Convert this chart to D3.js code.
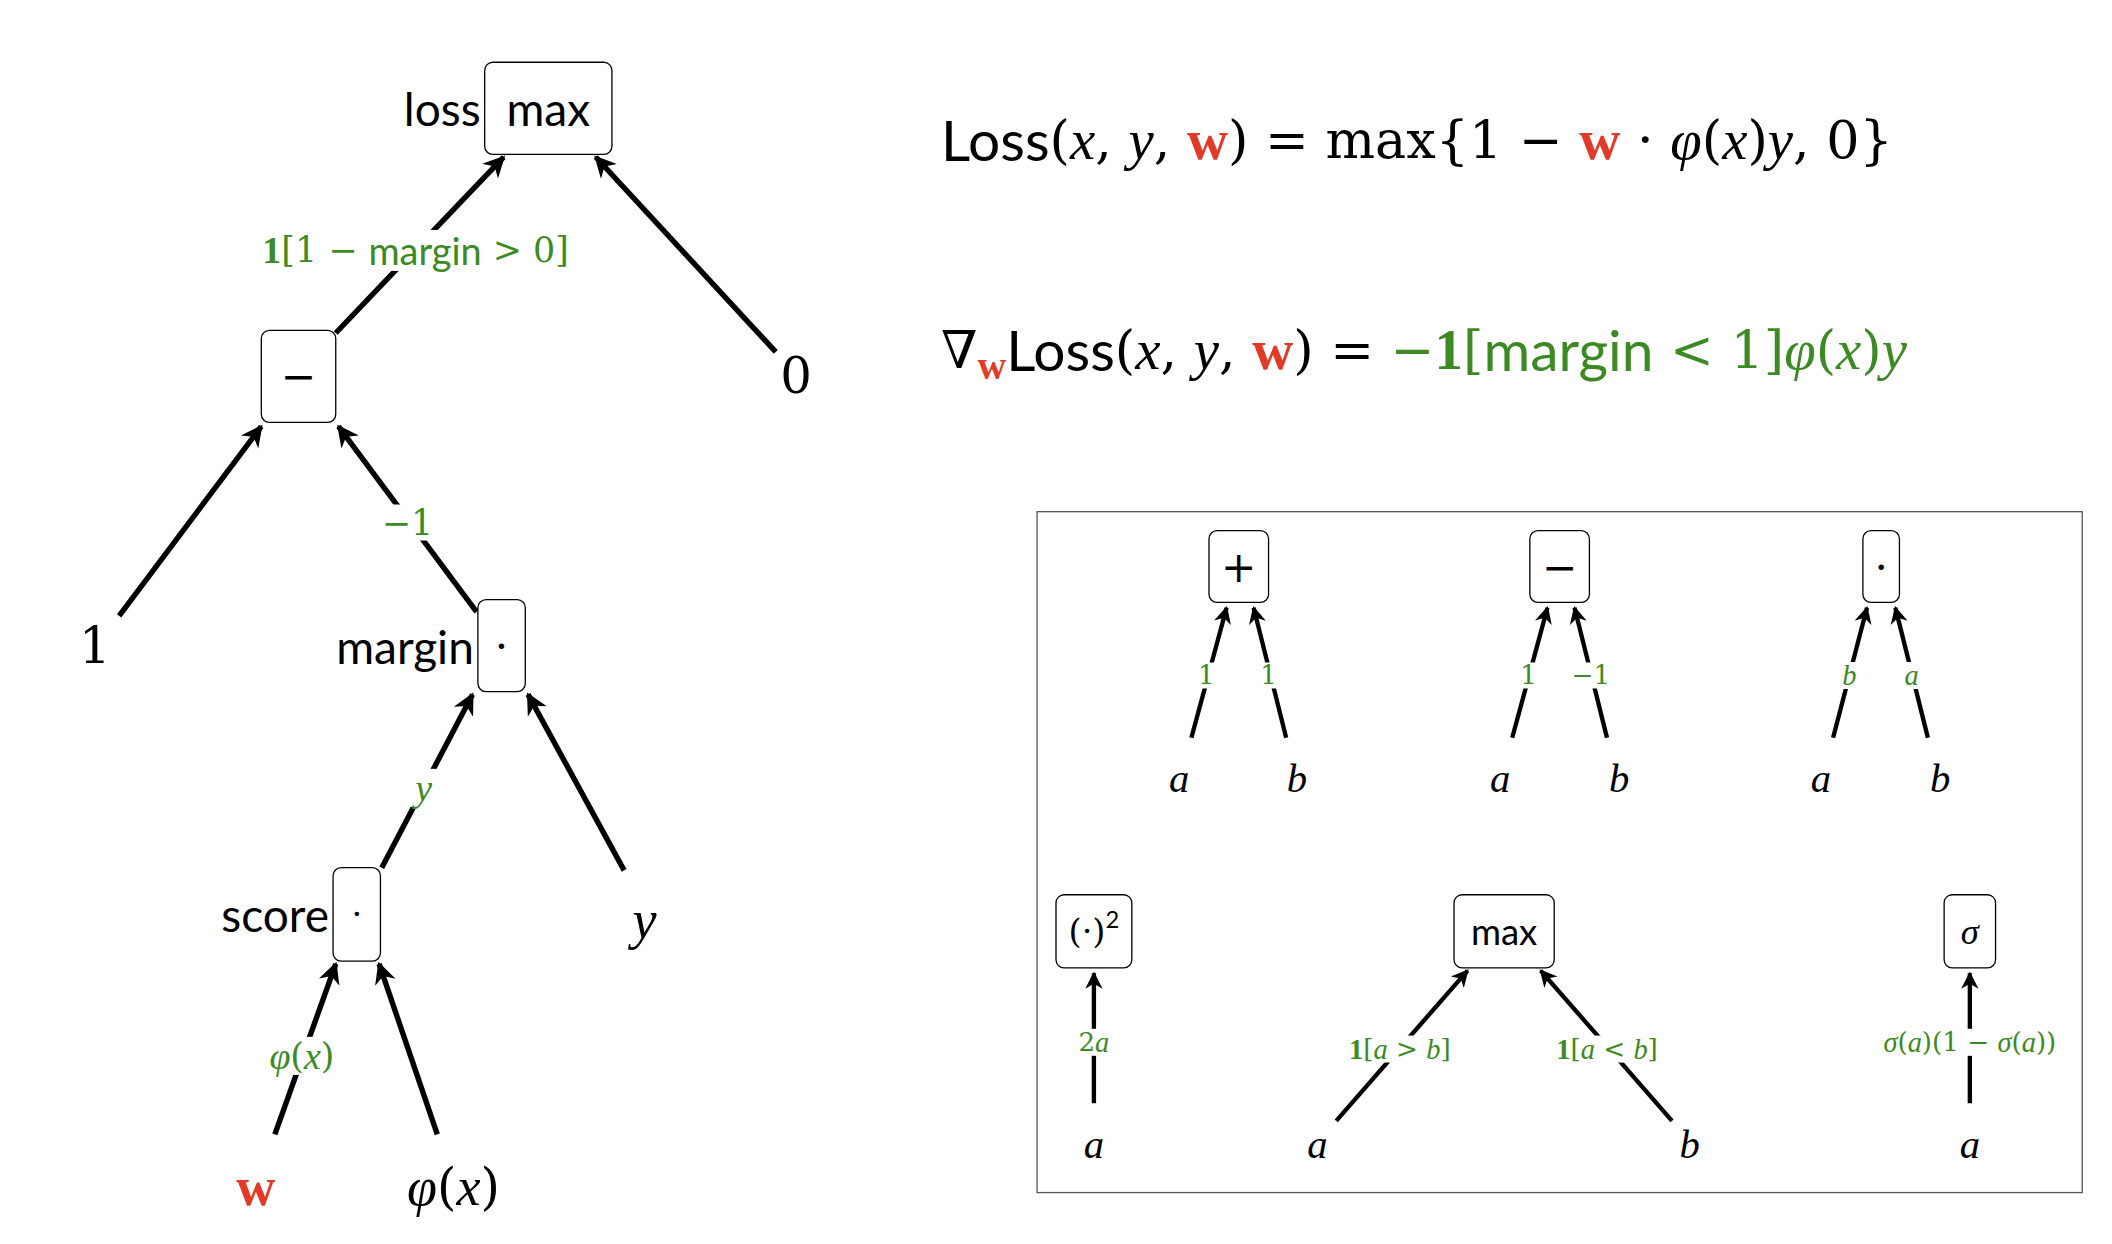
<!DOCTYPE html>
<html><head><meta charset="utf-8">
<script src="https://cdn.jsdelivr.net/npm/d3@7"></script>
<style>body{margin:0;background:#fff}</style>
</head><body><div id="canvas"></div>
<script>
const W=2112,H=1244;
const GREEN="#3b8a23",RED="#e23a26";
// picture space is 1560 x 919, scaled up to the page
const x=d3.scaleLinear().domain([0,1560]).range([0,W]);
const y=d3.scaleLinear().domain([0,919]).range([0,H]);
const k=W/1560;

// boxes: [id, x0, y0, x1, y1, text, side label]
const boxes=[
 ["max",358,46,452,114,[["max","s"]],"loss"],
 ["minus",193,244,248,312,[["−","m"]],""],
 ["margin",353,443,388,511,[["·","m"]],"margin"],
 ["score",246,641,281,710,[["·","m"]],"score"],
 ["plus2",893,392,937,445,[["+","m"]],""],
 ["minus2",1130,392,1174,445,[["−","m"]],""],
 ["dot2",1376,392,1403,445,[["·","m"]],""],
 ["sq2",780,661,836,715,[["(·)","m"],["2","sup"]],""],
 ["max2",1074,661,1148,715,[["max","s"]],""],
 ["sig2",1436,661,1474,715,[["σ","i"]],""]
];
// edges: from x,y -> to x,y, label, label x,y, size
const edges=[
 [248,246,372,116,[["1","bg"],["[1 − ","m"],["margin","s"],[" > 0]","m"]],307,185,28,4],
 [573,260,440,116,null,0,0,0,4],
 [88,455,193,315,null,0,0,0,4],
 [352,452,250,315,[["−1","m"]],301,386,28,4],
 [282,641,349,513,[["y","i"]],313,582,28,4],
 [461,643,390,513,null,0,0,0,4],
 [203,838,248,712,[["φ","i"],["(","m"],["x","i"],[")","m"]],223,780,28,4],
 [323,838,280,712,null,0,0,0,4],
 [880,545,906,449,[["1","m"]],891,499,21,3.2],
 [950,545,926,449,[["1","m"]],937,499,21,3.2],
 [1117,545,1143,449,[["1","m"]],1129,499,21,3.2],
 [1187,545,1163,449,[["−1","m"]],1175,499,21,3.2],
 [1354,545,1379,449,[["b","i"]],1366,499,21,3.2],
 [1424,545,1400,449,[["a","i"]],1412,499,21,3.2],
 [808,815,808,719,[["2","m"],["a","i"]],808,770,21,3.2],
 [987,828,1084,717,[["1","bg"],["[","m"],["a","i"],[" > ","m"],["b","i"],["]","m"]],1034,775,21,3.2],
 [1235,828,1138,717,[["1","bg"],["[","m"],["a","i"],[" < ","m"],["b","i"],["]","m"]],1187,775,21,3.2],
 [1455,815,1455,719,[["σ","i"],["(","m"],["a","i"],[")(1 − ","m"],["σ","i"],["(","m"],["a","i"],["))","m"]],1455,770,21,3.2]
];
// leaves: text, x, y, size
const leaves=[
 [[["1","m"]],70,477,40],[[["0","m"]],588,278,40],[[["y","i"]],476,680,40],
 [[["w","br"]],189,877,40],[[["φ","i"],["(","m"],["x","i"],[")","m"]],335,877,40],
 [[["a","i"]],871,575,30],[[["b","i"]],958,575,30],[[["a","i"]],1108,575,30],[[["b","i"]],1196,575,30],
 [[["a","i"]],1345,575,30],[[["b","i"]],1433,575,30],[[["a","i"]],808,845,30],[[["a","i"]],973,845,30],
 [[["b","i"]],1248,845,30],[[["a","i"]],1455,845,30]
];
const formula1=[["Loss","s"],["(","m"],["x","i"],[", ","m"],["y","i"],[", ","m"],["w","br"],[") = max{1 − ","m"],["w","br"],[" · ","m"],["φ","i"],["(","m"],["x","i"],[")","m"],["y","i"],[", 0}","m"]];
const formula2=[["∇","m"],["w","brsub"],["Loss","s"],["(","m"],["x","i"],[", ","m"],["y","i"],[", ","m"],["w","br"],[") = ","m"],["−","mg"],["1","bg"],["[","mg"],["margin","sg"],[" < 1]","mg"],["φ","ig"],["(","mg"],["x","ig"],[")","mg"],["y","ig"]];

const svg=d3.select("#canvas").append("svg").attr("width",W).attr("height",H);
svg.append("defs").append("marker").attr("id","ah").attr("viewBox","0 0 10 10")
 .attr("refX",9).attr("refY",5).attr("markerWidth",4).attr("markerHeight",5).attr("orient","auto")
 .append("path").attr("d","M0,0L10,5L0,10L3,5Z").attr("fill","#000");

function rich(g,segs,px,py,size,anchor,color){
 const t=g.append("text").attr("x",x(px)).attr("y",y(py)).attr("text-anchor",anchor||"middle")
  .attr("dominant-baseline","central").attr("font-size",size*k).attr("fill",color||"#000");
 segs.forEach(([s,st])=>{
  const ts=t.append("tspan").text(s);
  const g2=st.endsWith("g")&&st!=="bg"||st==="bg";
  if(st[0]==="s") ts.attr("font-family","Lato, 'Open Sans', sans-serif");
  else if(st[0]==="i") ts.attr("font-family","'Liberation Serif', serif").attr("font-style","italic");
  else if(st[0]==="b") ts.attr("font-family","'Liberation Serif', serif").attr("font-weight","bold");
  else ts.attr("font-family","'DejaVu Serif', serif").attr("font-size",size*k*0.92);
  if(st==="br") ts.attr("fill",RED);
  if(st==="brsub") ts.attr("fill",RED).attr("font-size",size*k*0.7).attr("dy",size*k*0.3);
  if(st==="sup") ts.attr("font-size",size*k*0.65).attr("dy",-size*k*0.35);
  if(st.length>1&&st.endsWith("g")) ts.attr("fill",GREEN);
  if(st==="s"&&segs[0][0]==="∇") ts.attr("dy",-size*k*0.3);
 });
 return t;
}

const gE=svg.append("g");
edges.forEach(e=>{
 gE.append("line").attr("x1",x(e[0])).attr("y1",y(e[1])).attr("x2",x(e[2])).attr("y2",y(e[3]))
  .attr("stroke","#000").attr("stroke-width",e[8]*k).attr("marker-end","url(#ah)");
 if(e[4]){
  const t=rich(gE,e[4],e[5],e[6],e[7],"middle",GREEN);
  const b=t.node().getBBox();
  gE.insert("rect",()=>t.node()).attr("x",b.x-4).attr("y",b.y+2).attr("width",b.width+8).attr("height",b.height-4).attr("fill","#fff");
 }
});
boxes.forEach(b=>{
 svg.append("rect").attr("x",x(b[1])).attr("y",y(b[2])).attr("width",x(b[3])-x(b[1])).attr("height",y(b[4])-y(b[2]))
  .attr("rx",6*k).attr("fill","#fff").attr("stroke","#000").attr("stroke-width",1.3);
 const big=b[2]<600;
 rich(svg,b[5],(b[1]+b[3])/2,(b[2]+b[4])/2,big?34:27,"middle");
 if(b[6]) rich(svg,[[b[6],"s"]],b[1]-3,(b[2]+b[4])/2,34,"end");
});
leaves.forEach(l=>rich(svg,l[0],l[1],l[2],l[3],"middle"));
rich(svg,formula1,695,103,42,"start");
rich(svg,formula2,695,258,42,"start");
svg.append("rect").attr("x",x(766)).attr("y",y(378)).attr("width",x(1538)-x(766)).attr("height",y(881)-y(378))
 .attr("fill","none").attr("stroke","#555").attr("stroke-width",1.3);
</script></body></html>
